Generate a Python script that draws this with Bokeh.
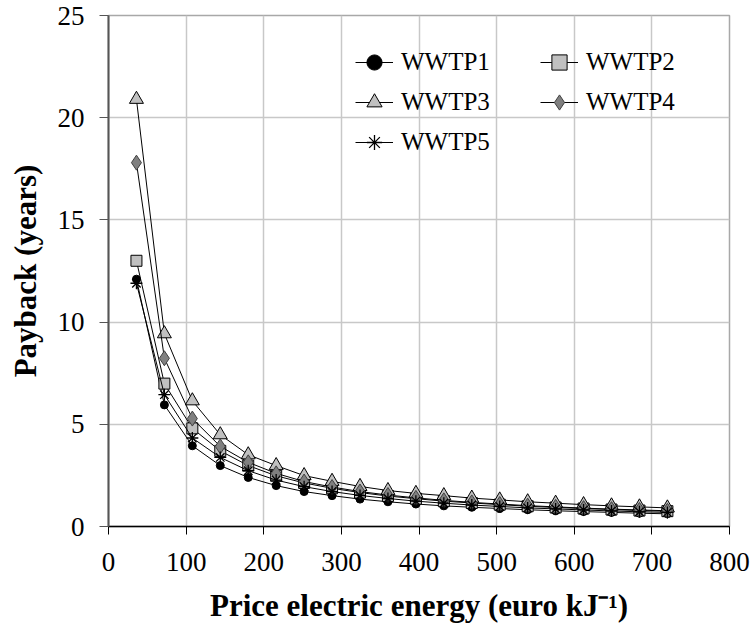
from bokeh.plotting import figure
from bokeh.models import Legend, LegendItem, FixedTicker, Range1d
from bokeh.embed import file_html
from bokeh.resources import INLINE

# Electricity price (x) and payback time in years for each plant
price = [36, 72, 108, 144, 180, 216, 252, 288, 324, 360,
         396, 432, 468, 504, 540, 576, 612, 648, 684, 720]
wwtp1 = [12.1, 5.95, 3.95, 2.98, 2.40, 2.00, 1.71, 1.51, 1.34, 1.21,
         1.10, 1.01, 0.94, 0.88, 0.82, 0.77, 0.73, 0.69, 0.65, 0.62]
wwtp2 = [13.0, 6.99, 4.80, 3.70, 2.98, 2.48, 2.13, 1.87, 1.66, 1.49,
         1.36, 1.24, 1.15, 1.07, 0.99, 0.93, 0.88, 0.83, 0.78, 0.75]
wwtp3 = [20.9, 9.43, 6.15, 4.49, 3.51, 2.98, 2.49, 2.21, 1.96, 1.76,
         1.62, 1.51, 1.39, 1.30, 1.21, 1.14, 1.07, 1.01, 0.96, 0.91]
wwtp4 = [17.8, 8.23, 5.28, 3.92, 3.14, 2.60, 2.20, 1.93, 1.71, 1.54,
         1.40, 1.28, 1.18, 1.10, 1.02, 0.96, 0.90, 0.85, 0.81, 0.77]
wwtp5 = [11.9, 6.45, 4.33, 3.38, 2.73, 2.27, 1.95, 1.71, 1.52, 1.37,
         1.24, 1.14, 1.05, 0.98, 0.91, 0.86, 0.81, 0.76, 0.72, 0.69]

x_ticks = [0, 100, 200, 300, 400, 500, 600, 700, 800]
y_ticks = [0, 5, 10, 15, 20, 25]

FONT = "Liberation Serif"

p = figure(width=753, height=632, output_backend="svg", toolbar_location=None,
           x_range=Range1d(0, 800), y_range=Range1d(0, 25),
           min_border_left=108, min_border_right=24,
           min_border_top=15, min_border_bottom=106)
p.background_fill_color = "white"
p.border_fill_color = "white"
p.outline_line_color = "#a8a8a8"
p.outline_line_width = 1.5

# axes
p.xaxis.ticker = FixedTicker(ticks=x_ticks)
p.yaxis.ticker = FixedTicker(ticks=y_ticks)
for ax in (p.xaxis, p.yaxis):
    ax.major_label_text_font = FONT
    ax.major_label_text_font_size = "27px"
    ax.major_label_text_color = "black"
    ax.axis_label_text_font = FONT
    ax.axis_label_text_font_size = "31px"
    ax.axis_label_text_font_style = "bold"
    ax.axis_label_text_color = "black"
    ax.minor_tick_line_color = None
    ax.major_tick_in = 0

p.xaxis.axis_label = "Price electric energy (euro kJ\u207b\u00b9)"
p.yaxis.axis_label = "Payback (years)"
p.xaxis.axis_line_color = "black"
p.xaxis.axis_line_width = 1.5
p.xaxis.major_tick_line_color = "black"
p.xaxis.major_tick_out = 8
p.xaxis.major_label_standoff = 18
p.xaxis.axis_label_standoff = 14
p.yaxis.axis_line_color = "#555555"
p.yaxis.axis_line_width = 2
p.yaxis.major_tick_line_color = "#555555"
p.yaxis.major_tick_out = 9
p.yaxis.major_label_standoff = 15
p.yaxis.axis_label_standoff = 12

p.xgrid.ticker = FixedTicker(ticks=x_ticks)
p.ygrid.ticker = FixedTicker(ticks=y_ticks)
for g in (p.xgrid, p.ygrid):
    g.grid_line_color = "#c8c8c8"
    g.grid_line_width = 1.5

series = [
    ("WWTP1", wwtp1, dict(marker="circle", size=8, fill_color="black", line_color="black")),
    ("WWTP2", wwtp2, dict(marker="square", size=11, fill_color="#c0c0c0", line_color="black")),
    ("WWTP3", wwtp3, dict(marker="triangle", size=14, fill_color="#c0c0c0", line_color="black")),
    ("WWTP4", wwtp4, dict(marker="diamond", size=15, fill_color="#808080", line_color="#404040")),
    ("WWTP5", wwtp5, dict(marker="asterisk", size=12, line_color="black", line_width=1.3)),
]

items = {}
for name, vals, style in series:
    ln = p.line(price, vals, line_color="black", line_width=1)
    sc = p.scatter(price, vals, **style)
    items[name] = LegendItem(label=name, renderers=[ln, sc])


def make_legend(names, loc):
    lg = Legend(items=[items[n] for n in names], location=loc,
                orientation="vertical", padding=0, margin=0, spacing=0,
                glyph_width=38, glyph_height=40, label_height=40,
                label_standoff=8, label_text_font=FONT,
                label_text_font_size="25px", label_text_color="black",
                background_fill_alpha=0, border_line_alpha=0)
    p.add_layout(lg, "center")


make_legend(["WWTP1", "WWTP3", "WWTP5"], (247, 364))
make_legend(["WWTP2", "WWTP4"], (432, 404))

open("out.html", "w").write(file_html(p, INLINE))
